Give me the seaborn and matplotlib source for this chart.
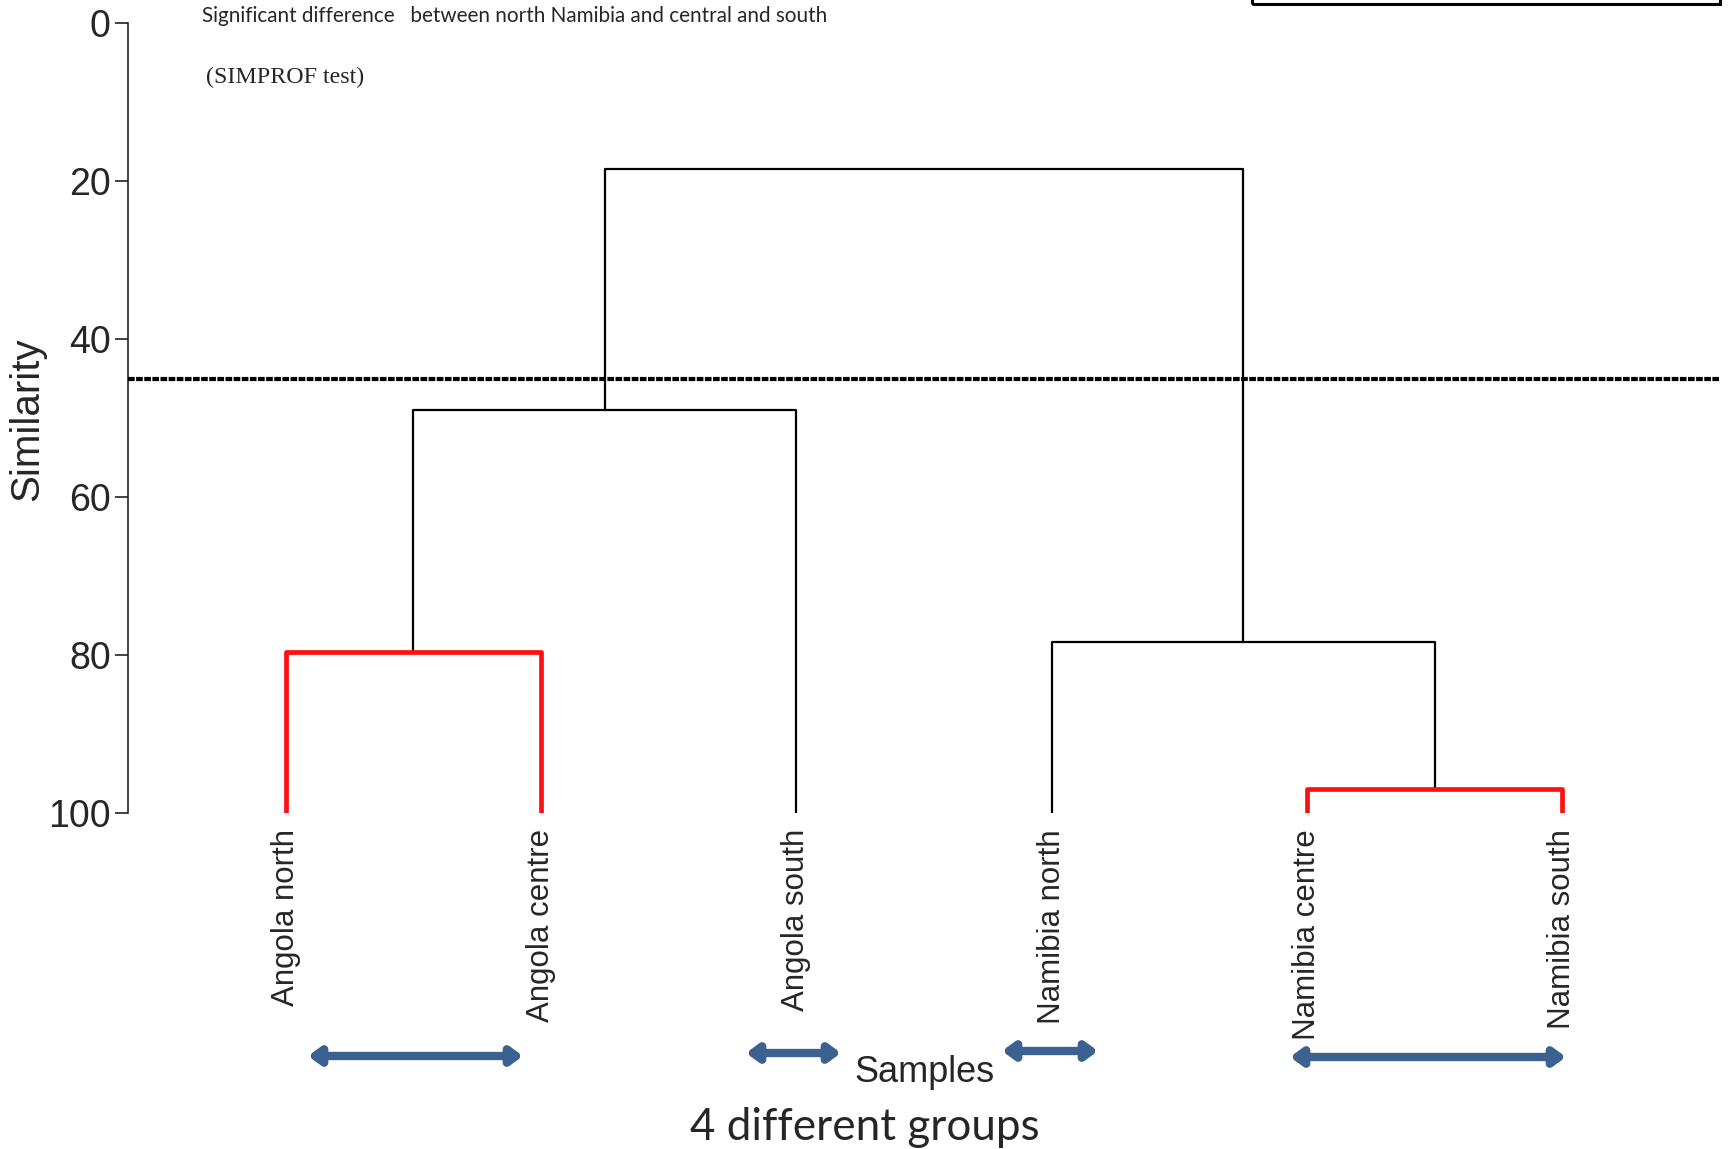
import numpy as np
import pandas as pd
import matplotlib
matplotlib.use("Agg")
import matplotlib.pyplot as plt
import seaborn as sns
from matplotlib.patches import Rectangle

# ---------------- data ----------------
leaves = ["Angola north", "Angola centre", "Angola south",
          "Namibia north", "Namibia centre", "Namibia south"]
# cluster merges (node ids: 0-5 leaves, 6.. clusters in merge order)
merge_left = [0, 4, 6, 3, 8]
merge_right = [1, 5, 2, 7, 9]
merge_sim = [79.6, 97.0, 49.0, 78.3, 18.5]
merge_red = [True, True, False, False, False]   # SIMPROF: no significant structure
cut_level = 45.1
y_ticks = [0, 20, 40, 60, 80, 100]

# ---------------- build dendrogram segments ----------------
node_x = {i: float(i) for i in range(len(leaves))}
node_y = {i: 100.0 for i in range(len(leaves))}
rows = []
for k, (l, r, h, red) in enumerate(zip(merge_left, merge_right, merge_sim, merge_red)):
    nid = len(leaves) + k
    pts = [(node_x[l], node_y[l]), (node_x[l], h), (node_x[r], h), (node_x[r], node_y[r])]
    for j, (px, py) in enumerate(pts):
        rows.append({"seg": k, "order": j, "x": px, "y": py,
                     "grp": "red" if red else "black"})
    node_x[nid] = (node_x[l] + node_x[r]) / 2
    node_y[nid] = h
df = pd.DataFrame(rows)

# ---------------- figure ----------------
sns.set_theme(style="white")
plt.rcParams["font.family"] = ["Liberation Sans", "DejaVu Sans"]

W, H = 1729, 1149
fig = plt.figure(figsize=(W / 100, H / 100), dpi=100)
ax = fig.add_axes([128 / W, 1 - 813 / H, 1592 / W, 790 / H])

sns.lineplot(data=df[df.grp == "black"], x="x", y="y", units="seg",
             estimator=None, sort=False, color="black", lw=1.6, ax=ax)
sns.lineplot(data=df[df.grp == "red"], x="x", y="y", units="seg",
             estimator=None, sort=False, color="#ff1010", lw=3.4, ax=ax)

ax.axhline(cut_level, color="black", lw=3.0, ls=(0, (1.6, 0.35)), zorder=3)

ax.set_xlim(-0.617, 5.617)
ax.set_ylim(100, 0)
ax.set_xlabel("")
ax.set_ylabel("")

sns.despine(ax=ax, top=True, right=True, bottom=True, left=False)
ax.spines["left"].set_color("#222222")
ax.spines["left"].set_linewidth(1.2)

ax.set_yticks(y_ticks)
ax.set_yticklabels([str(t) for t in y_ticks], fontsize=27)
ax.tick_params(axis="y", direction="out", length=9.4, width=1.2, pad=3,
               color="#222222", left=True)

ax.set_xticks(range(len(leaves)))
ax.set_xticklabels(leaves, rotation=90, fontsize=22.5, va="top", ha="center")
ax.tick_params(axis="x", length=0, pad=11.5)

# axis titles
fig.text(27 / W, 1 - 419 / H, "Similarity", rotation=90, ha="center", va="center",
         fontsize=29)
fig.text(924 / W, 1 - 1072 / H, "Samples", ha="center", va="center", fontsize=26)
fig.text(865 / W, 1 - 1127 / H, "4 different groups", ha="center", va="center",
         fontsize=31.7, family=["Lato", "DejaVu Sans"])

# annotations
fig.text(202 / W, 1 - 22 / H,
         "Significant difference   between north Namibia and central and south",
         ha="left", va="baseline", fontsize=14.9, family=["Lato", "DejaVu Sans"])
fig.text(206 / W, 1 - 77 / H, "(SIMPROF test)", ha="left", va="center",
         fontsize=17.3, family=["Liberation Serif", "DejaVu Serif"])

# group arrows (figure pixels)
arrow_spans = [(308, 523, 1056), (746, 841, 1053), (1002, 1098, 1051), (1290, 1566, 1057)]
for x1, x2, yy in arrow_spans:
    ax.annotate("", xy=(x2, H - yy), xytext=(x1, H - yy), xycoords="figure pixels",
                textcoords="figure pixels", annotation_clip=False,
                arrowprops=dict(arrowstyle="<|-|>,head_length=0.3,head_width=0.22",
                                mutation_scale=22, lw=6, color="#3b6190",
                                shrinkA=0, shrinkB=0))

# clipped legend box at top right
fig.add_artist(Rectangle((1252 / W, 1 - 3.5 / H), 468 / W, 0.05,
                         transform=fig.transFigure, fill=False, lw=2.2,
                         ec="black", clip_on=False))

fig.savefig("out.png", dpi=100)
